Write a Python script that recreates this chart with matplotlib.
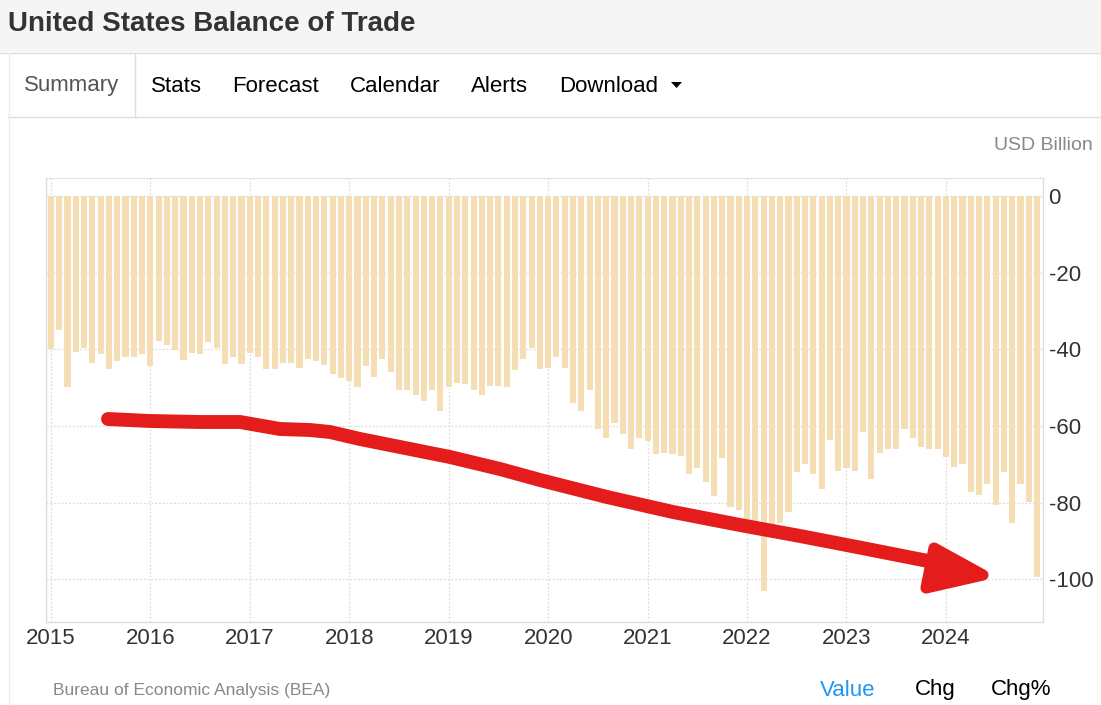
import matplotlib
matplotlib.use("Agg")
import matplotlib.pyplot as plt
from matplotlib.patches import Rectangle, Polygon
from matplotlib.lines import Line2D
import numpy as np

W, H = 1101, 705

years = ["2015", "2016", "2017", "2018", "2019", "2020", "2021", "2022", "2023", "2024"]

# monthly balance of trade, USD billion (Jan 2015 .. Dec 2024)
balance = [
    -40.0, -34.9, -49.9, -40.8, -39.7, -43.5, -41.2, -45.2, -42.9, -42.0, -42.0, -41.3,
    -44.3, -37.7, -38.9, -40.1, -42.8, -40.9, -41.2, -38.2, -39.7, -43.7, -42.0, -43.7,
    -40.9, -42.0, -45.2, -45.2, -43.5, -43.6, -44.8, -42.4, -42.9, -44.0, -46.3, -47.5,
    -48.3, -49.9, -44.4, -47.1, -42.4, -46.0, -50.7, -50.7, -51.8, -53.4, -50.7, -56.1,
    -49.9, -48.7, -49.1, -50.7, -51.8, -49.5, -49.5, -49.9, -45.5, -42.4, -39.6, -45.2,
    -44.8, -41.9, -44.8, -54.1, -56.1, -50.6, -60.8, -63.2, -59.2, -62.0, -65.9, -63.2,
    -63.9, -67.4, -67.1, -67.4, -67.9, -72.5, -70.9, -74.5, -78.3, -68.2, -81.0, -81.9,
    -88.0, -88.0, -102.9, -87.0, -85.3, -82.3, -72.1, -69.9, -72.6, -76.4, -63.6, -71.7,
    -71.0, -71.7, -61.6, -73.7, -67.0, -65.9, -65.9, -60.8, -63.1, -65.4, -65.9, -65.9,
    -68.1, -70.6, -69.8, -77.3, -78.0, -75.2, -80.7, -72.1, -85.3, -75.2, -79.9, -99.4,
]

y_ticks = [0, -20, -40, -60, -80, -100]

# hand drawn red arrow over the chart (screen pixels)
arrow_x = [108, 150, 200, 240, 280, 310, 330, 360, 400, 450, 500, 540, 607, 673, 740, 800, 857, 923, 940]
arrow_y = [419, 421, 422, 422, 429, 430, 432, 439, 447, 457, 469, 480, 497, 512, 525, 536, 547, 560, 563]
head_x = [934, 983, 926]
head_y = [548, 575, 588]

FONT = "Liberation Sans"
plt.rcParams["font.family"] = [FONT, "DejaVu Sans"]


def px(x, y):
    return x / W, 1 - y / H


fig = plt.figure(figsize=(W / 100, H / 100), dpi=100)
fig.patch.set_facecolor("white")

# header band
fig.patches.append(Rectangle(px(0, 52), 1, 52 / H, transform=fig.transFigure,
                             facecolor="#f5f5f5", edgecolor="none", zorder=0))
fig.lines.append(Line2D([0, 1], [1 - 52.5 / H] * 2, transform=fig.transFigure, color="#dcdcdc", lw=1))
fig.text(*px(8, 24), "United States Balance of Trade", fontsize=20, fontweight="bold",
         color="#333333", va="center", ha="left")

# tabs
fig.lines.append(Line2D([8 / W, 1], [1 - 117 / H] * 2, transform=fig.transFigure, color="#dddddd", lw=1))
fig.lines.append(Line2D([8.5 / W] * 2, [1 - 53 / H, 0], transform=fig.transFigure, color="#eeeeee", lw=1))
fig.lines.append(Line2D([135 / W] * 2, [1 - 53 / H, 1 - 117 / H], transform=fig.transFigure, color="#dddddd", lw=1))
tabs = [("Summary", 24, "#555555"), ("Stats", 151, "black"), ("Forecast", 232, "black"),
        ("Calendar", 350, "black"), ("Alerts", 471, "black"), ("Download", 559, "black")]
for label, x, c in tabs:
    fig.text(*px(x, 86), label, fontsize=16, color=c, va="center", ha="left")
fig.patches.append(Polygon([px(671, 82), px(682, 82), px(676.5, 88)], closed=True,
                           transform=fig.transFigure, facecolor="black", edgecolor="none"))

# chart
ax = fig.add_axes([46 / W, 1 - 622 / H, (1043 - 46) / W, (622 - 178) / H])
x = np.arange(len(balance))
ax.bar(x, balance, width=0.74, color="#f5deb3", zorder=2)
ax.set_xlim(-0.6, len(balance) - 1 + 0.72)
ax.set_ylim(-111.1, 4.7)

ax.yaxis.tick_right()
ax.set_yticks(y_ticks)
ax.set_yticklabels([str(v) for v in y_ticks])
ax.set_xticks(np.arange(0, len(balance), 12))
ax.set_xticklabels(years)
ax.tick_params(axis="y", length=0, pad=4, labelsize=16, labelcolor="#333333")
ax.tick_params(axis="x", length=0, pad=4, labelsize=16, labelcolor="#333333")
for lab in ax.get_yticklabels():
    lab.set_horizontalalignment("left")

ax.grid(True, axis="both", color="#dddddd", linestyle=(0, (1.5, 1.5)), lw=0.9, zorder=0)
for side in ["left", "right", "bottom"]:
    ax.spines[side].set_color("#dddddd")
    ax.spines[side].set_linewidth(1)
ax.spines["top"].set_color("#dddddd")
ax.spines["top"].set_linestyle((0, (1.5, 1.5)))

fig.text(*px(1093, 146), "USD Billion", fontsize=14, color="#888888", ha="right", va="center")

# red arrow
fx = [a / W for a in arrow_x]
fy = [1 - b / H for b in arrow_y]
fig.lines.append(Line2D(fx, fy, transform=fig.transFigure, color="#e51c1c", lw=10,
                        solid_capstyle="round", solid_joinstyle="round", zorder=10))
fig.patches.append(Polygon([px(a, b) for a, b in zip(head_x, head_y)], closed=True,
                           transform=fig.transFigure, facecolor="#e51c1c", edgecolor="#e51c1c",
                           lw=8, joinstyle="round", zorder=10))

# footer
fig.text(*px(53, 690), "Bureau of Economic Analysis (BEA)", fontsize=12.5, color="#888888",
         ha="left", va="center")
fig.text(*px(820, 690), "Value", fontsize=16, color="#2196f3", ha="left", va="center")
fig.text(*px(915, 690), "Chg", fontsize=16, color="black", ha="left", va="center")
fig.text(*px(991, 690), "Chg%", fontsize=16, color="black", ha="left", va="center")

fig.savefig("out.png", dpi=100)
